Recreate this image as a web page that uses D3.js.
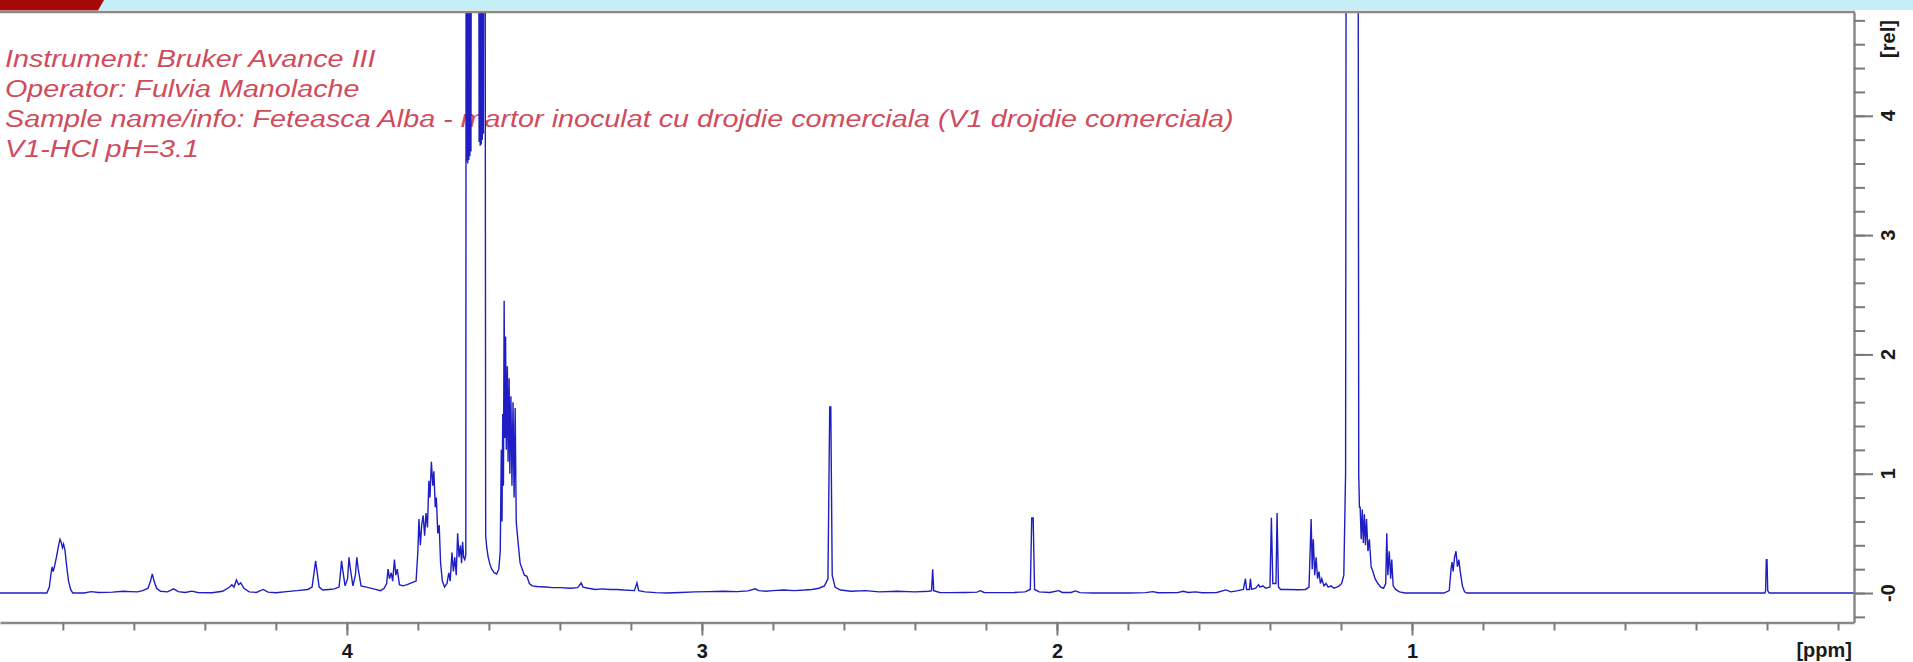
<!DOCTYPE html>
<html>
<head>
<meta charset="utf-8">
<script src="https://cdn.jsdelivr.net/npm/d3@7"></script>
<style>
  html, body { margin: 0; padding: 0; background: #ffffff; overflow: hidden; }
  svg { display: block; }
</style>
</head>
<body>
<svg id="chart" width="1913" height="662"></svg>
<script>
// Acquisition notes printed in the upper-left corner
const headerLines = [
  "Instrument: Bruker Avance III",
  "Operator: Fulvia Manolache",
  "Sample name/info: Feteasca Alba - martor inoculat cu drojdie comerciala (V1 drojdie comerciala)",
  "V1-HCl pH=3.1"
];

// Chemical shift axis (ppm, decreasing to the right)
const ppmTicks = [4.8, 4.6, 4.4, 4.2, 4.0, 3.8, 3.6, 3.4, 3.2, 3.0, 2.8, 2.6, 2.4,
                  2.2, 2.0, 1.8, 1.6, 1.4, 1.2, 1.0, 0.8, 0.6, 0.4, 0.2, 0.0, -0.2];
const ppmLabels = [4, 3, 2, 1];
const ppmUnit = "[ppm]";

// Relative intensity axis
const relTicks = [-0.2, 0, 0.2, 0.4, 0.6, 0.8, 1.0, 1.2, 1.4, 1.6, 1.8, 2.0, 2.2, 2.4,
                  2.6, 2.8, 3.0, 3.2, 3.4, 3.6, 3.8, 4.0, 4.2, 4.4, 4.6, 4.8];
const relLabels = [0, 1, 2, 3, 4];
const relLabelText = ["-0", "1", "2", "3", "4"];
const relUnit = "[rel]";

// 1H spectrum trace: [chemical shift (ppm), relative intensity]
const spectrum = [
  [4.977, 0.0], [4.845, 0.0], [4.838, 0.05], [4.833, 0.17], [4.830, 0.22], [4.827, 0.18],
  [4.823, 0.23], [4.818, 0.30], [4.812, 0.40], [4.808, 0.45], [4.804, 0.42], [4.801, 0.38],
  [4.798, 0.41], [4.794, 0.36], [4.789, 0.22], [4.784, 0.10], [4.778, 0.03], [4.772, 0.0],
  [4.74, 0.0], [4.72, 0.012], [4.70, 0.005], [4.66, 0.008], [4.63, 0.015], [4.61, 0.012],
  [4.59, 0.01], [4.575, 0.02], [4.56, 0.04], [4.553, 0.10], [4.548, 0.16], [4.543, 0.10],
  [4.536, 0.04], [4.525, 0.015], [4.505, 0.01], [4.488, 0.035], [4.475, 0.012], [4.455, 0.005],
  [4.437, 0.016], [4.42, 0.004], [4.38, 0.002], [4.35, 0.015], [4.33, 0.05], [4.324, 0.07],
  [4.318, 0.05], [4.311, 0.11], [4.305, 0.07], [4.299, 0.085], [4.29, 0.04], [4.275, 0.01],
  [4.255, 0.005], [4.236, 0.03], [4.222, 0.008], [4.20, 0.003], [4.17, 0.012], [4.14, 0.02],
  [4.11, 0.03], [4.098, 0.05], [4.092, 0.18], [4.088, 0.27], [4.084, 0.18], [4.078, 0.05],
  [4.068, 0.025], [4.05, 0.03], [4.035, 0.035], [4.022, 0.05], [4.017, 0.20], [4.015, 0.27],
  [4.012, 0.20], [4.005, 0.06], [3.998, 0.12], [3.994, 0.30], [3.991, 0.22], [3.983, 0.06],
  [3.976, 0.15], [3.972, 0.30], [3.968, 0.20], [3.960, 0.06], [3.945, 0.05], [3.925, 0.035],
  [3.905, 0.02], [3.895, 0.04], [3.888, 0.08], [3.884, 0.20], [3.880, 0.12], [3.875, 0.17],
  [3.871, 0.10], [3.866, 0.28], [3.862, 0.15], [3.858, 0.20], [3.852, 0.07], [3.842, 0.06],
  [3.830, 0.07], [3.815, 0.09], [3.805, 0.10], [3.800, 0.35], [3.797, 0.62], [3.793, 0.40],
  [3.789, 0.58], [3.785, 0.65], [3.781, 0.48], [3.777, 0.67], [3.773, 0.55], [3.769, 0.94],
  [3.766, 0.80], [3.762, 1.10], [3.758, 0.90], [3.755, 1.02], [3.751, 0.72], [3.748, 0.80],
  [3.744, 0.50], [3.740, 0.57], [3.736, 0.25], [3.731, 0.10], [3.725, 0.05], [3.718, 0.08],
  [3.713, 0.17], [3.709, 0.10], [3.704, 0.34], [3.700, 0.18], [3.696, 0.30], [3.692, 0.15],
  [3.688, 0.50], [3.684, 0.30], [3.680, 0.40], [3.677, 0.25], [3.674, 0.43], [3.671, 0.30],
  [3.668, 0.28], [3.665, 0.32],
  [3.664, 7.0], [3.6625, 3.62], [3.661, 7.0], [3.6595, 3.60], [3.658, 7.0], [3.6565, 3.63],
  [3.655, 7.0], [3.6535, 3.66], [3.652, 7.0], [3.6505, 3.70], [3.649, 7.0],
  [3.629, 7.0], [3.6275, 3.78], [3.626, 7.0], [3.6245, 3.75], [3.623, 7.0], [3.6215, 3.76],
  [3.620, 7.0], [3.6185, 3.80], [3.617, 7.0], [3.6155, 3.85], [3.614, 7.0], [3.611, 7.0],
  [3.609, 0.48], [3.606, 0.38], [3.602, 0.30], [3.597, 0.24],
  [3.592, 0.20], [3.585, 0.17], [3.578, 0.16], [3.572, 0.20], [3.568, 0.35], [3.565, 1.2],
  [3.563, 0.6], [3.561, 1.5], [3.559, 0.9], [3.557, 2.45], [3.555, 1.3], [3.553, 2.15],
  [3.551, 1.2], [3.548, 1.9], [3.546, 1.1], [3.543, 1.8], [3.541, 1.0], [3.538, 1.65],
  [3.535, 0.9], [3.532, 1.6], [3.529, 0.8], [3.526, 1.55], [3.523, 0.6], [3.520, 0.5],
  [3.517, 0.40], [3.512, 0.25], [3.506, 0.20], [3.500, 0.15], [3.493, 0.14], [3.486, 0.08],
  [3.478, 0.06], [3.465, 0.055], [3.44, 0.05], [3.42, 0.045], [3.40, 0.045], [3.37, 0.04],
  [3.35, 0.045], [3.34, 0.085], [3.335, 0.05], [3.32, 0.04], [3.30, 0.03], [3.28, 0.035],
  [3.26, 0.03], [3.24, 0.03], [3.22, 0.025], [3.19, 0.02], [3.183, 0.085], [3.178, 0.02],
  [3.16, 0.01], [3.13, 0.003], [3.10, 0.0], [3.06, 0.005], [3.02, 0.01], [2.98, 0.012],
  [2.94, 0.015], [2.90, 0.012], [2.87, 0.018], [2.85, 0.035], [2.84, 0.02], [2.82, 0.015],
  [2.80, 0.02], [2.77, 0.025], [2.74, 0.02], [2.71, 0.025], [2.69, 0.03], [2.67, 0.04],
  [2.655, 0.06], [2.645, 0.12], [2.640, 1.56], [2.637, 1.56], [2.633, 0.15], [2.625, 0.05],
  [2.61, 0.025], [2.58, 0.015], [2.54, 0.02], [2.50, 0.01], [2.45, 0.015], [2.40, 0.01],
  [2.36, 0.015], [2.353, 0.02], [2.350, 0.20], [2.347, 0.02], [2.33, 0.005], [2.30, 0.003],
  [2.26, 0.005], [2.225, 0.008], [2.216, 0.02], [2.205, 0.005], [2.17, 0.003], [2.12, 0.005],
  [2.09, 0.01], [2.075, 0.03], [2.071, 0.63], [2.067, 0.63], [2.063, 0.03], [2.05, 0.01],
  [2.02, 0.005], [1.995, 0.02], [1.985, 0.005], [1.960, 0.005], [1.948, 0.018], [1.935, 0.003],
  [1.90, 0.0], [1.80, 0.0], [1.75, 0.003], [1.730, 0.012], [1.715, 0.002], [1.66, 0.003],
  [1.645, 0.015], [1.630, 0.005], [1.61, 0.010], [1.59, 0.002], [1.55, 0.005], [1.524, 0.026],
  [1.51, 0.01], [1.49, 0.02], [1.475, 0.03], [1.469, 0.12], [1.466, 0.03], [1.458, 0.03],
  [1.455, 0.12], [1.452, 0.03], [1.44, 0.04], [1.432, 0.07], [1.428, 0.05], [1.420, 0.06],
  [1.412, 0.04], [1.40, 0.05], [1.396, 0.63], [1.392, 0.08], [1.383, 0.08], [1.380, 0.67],
  [1.376, 0.05], [1.37, 0.03], [1.35, 0.03], [1.32, 0.028], [1.30, 0.03], [1.29, 0.05],
  [1.284, 0.62], [1.281, 0.20], [1.278, 0.45], [1.274, 0.15], [1.270, 0.30], [1.266, 0.12],
  [1.262, 0.18], [1.258, 0.08], [1.254, 0.12], [1.248, 0.06], [1.242, 0.08], [1.236, 0.05],
  [1.228, 0.06], [1.22, 0.04], [1.212, 0.05], [1.205, 0.06], [1.198, 0.08], [1.192, 0.15],
  [1.187, 1.0], [1.185, 7.0], [1.152, 7.0], [1.150, 1.0], [1.148, 0.72], [1.146, 0.72],
  [1.143, 0.45], [1.140, 0.70], [1.137, 0.42], [1.134, 0.66], [1.131, 0.40], [1.128, 0.62],
  [1.124, 0.35], [1.120, 0.45], [1.115, 0.22], [1.110, 0.18], [1.104, 0.12], [1.096, 0.08],
  [1.088, 0.05], [1.080, 0.04], [1.074, 0.08], [1.071, 0.50], [1.068, 0.15], [1.064, 0.35],
  [1.060, 0.12], [1.057, 0.28], [1.053, 0.06], [1.046, 0.03], [1.035, 0.01], [1.02, 0.0],
  [0.91, 0.0], [0.895, 0.02], [0.890, 0.20], [0.887, 0.26], [0.884, 0.18], [0.880, 0.30],
  [0.876, 0.35], [0.872, 0.22], [0.868, 0.28], [0.864, 0.18], [0.858, 0.06], [0.852, 0.01],
  [0.845, 0.0], [0.006, 0.0], [0.004, 0.02], [0.002, 0.28], [0.000, 0.28], [-0.002, 0.02],
  [-0.006, 0.0], [-0.245, 0.0]
];

const W = 1913, H = 662;
const frame = { left: 0, right: 1854, top: 12, bottom: 622.5 };

const x = d3.scaleLinear().domain([4.977, -0.245]).range([frame.left, frame.right]);
const y = d3.scaleLinear().domain([-0.247, 4.87]).range([frame.bottom, frame.top]);

const svg = d3.select("#chart");

// Window title strip
svg.append("rect").attr("x", 0).attr("y", 0).attr("width", W).attr("height", 10)
  .attr("fill", "#c4eff8");
svg.append("path").attr("d", "M0,0 L104,0 L98,10.5 L0,10.5 Z").attr("fill", "#a50808");

// Plot area clip
svg.append("defs").append("clipPath").attr("id", "plotClip")
  .append("rect")
  .attr("x", frame.left).attr("y", frame.top)
  .attr("width", frame.right - frame.left).attr("height", frame.bottom - frame.top);

// Header notes
const notes = svg.append("g").attr("class", "notes")
  .attr("transform", "translate(5,0) scale(1.25,1)");
notes.selectAll("text").data(headerLines).join("text")
  .attr("x", 0)
  .attr("y", (d, i) => 67 + i * 30)
  .attr("font-family", "'Liberation Sans', Arial, sans-serif")
  .attr("font-style", "italic")
  .attr("font-size", 23)
  .attr("fill", "#d04c5c")
  .text(d => d);

// Spectrum trace
const line = d3.line().x(d => x(d[0])).y(d => y(d[1]));
svg.append("path")
  .datum(spectrum)
  .attr("clip-path", "url(#plotClip)")
  .attr("d", line)
  .attr("fill", "none")
  .attr("stroke", "#1e1ec4")
  .attr("stroke-width", 1.4)
  .attr("stroke-linejoin", "miter");

// Frame: top edge
svg.append("line")
  .attr("x1", frame.left).attr("x2", frame.right + 1)
  .attr("y1", frame.top).attr("y2", frame.top)
  .attr("stroke", "#8a8a8a").attr("stroke-width", 2.5);

function styleAxis(g) {
  g.select(".domain").attr("stroke", "#8a8a8a").attr("stroke-width", 2.5);
  g.selectAll(".tick line").attr("stroke", "#7a7a7a").attr("stroke-width", 2);
  g.selectAll(".tick text")
    .attr("font-family", "'Liberation Sans', Arial, sans-serif")
    .attr("font-weight", "bold")
    .attr("font-size", 20)
    .attr("fill", "#1a1a1a");
}

// Bottom axis (ppm)
const bottomMinor = svg.append("g")
  .attr("transform", `translate(0,${frame.bottom})`)
  .call(d3.axisBottom(x).tickValues(ppmTicks).tickSize(8).tickSizeOuter(0).tickFormat(""));
styleAxis(bottomMinor);
const bottomMajor = svg.append("g")
  .attr("transform", `translate(0,${frame.bottom})`)
  .call(d3.axisBottom(x).tickValues(ppmLabels).tickSize(13).tickPadding(8).tickFormat(d3.format("d")));
styleAxis(bottomMajor);
bottomMajor.select(".domain").remove();

svg.append("text")
  .attr("x", 1852).attr("y", 657)
  .attr("text-anchor", "end")
  .attr("font-family", "'Liberation Sans', Arial, sans-serif")
  .attr("font-weight", "bold").attr("font-size", 20).attr("fill", "#1a1a1a")
  .text(ppmUnit);

// Right axis (relative intensity)
const rightMinor = svg.append("g")
  .attr("transform", `translate(${frame.right},0)`)
  .call(d3.axisRight(y).tickValues(relTicks).tickSize(11).tickSizeOuter(0).tickFormat(""));
styleAxis(rightMinor);
const rightMajor = svg.append("g")
  .attr("transform", `translate(${frame.right},0)`)
  .call(d3.axisRight(y).tickValues(relLabels).tickSize(19).tickFormat(""));
styleAxis(rightMajor);
rightMajor.select(".domain").remove();

const relText = svg.append("g")
  .attr("font-family", "'Liberation Sans', Arial, sans-serif")
  .attr("font-weight", "bold").attr("font-size", 20).attr("fill", "#1a1a1a");
relText.selectAll("text.rl").data(relLabels).join("text")
  .attr("class", "rl")
  .attr("transform", d => `translate(1888,${y(d)}) rotate(-90)`)
  .attr("text-anchor", "middle")
  .attr("dy", "0.35em")
  .text((d, i) => relLabelText[i]);
relText.append("text")
  .attr("transform", "translate(1888,39) rotate(-90)")
  .attr("text-anchor", "middle")
  .attr("dy", "0.35em")
  .text(relUnit);
</script>
</body>
</html>
